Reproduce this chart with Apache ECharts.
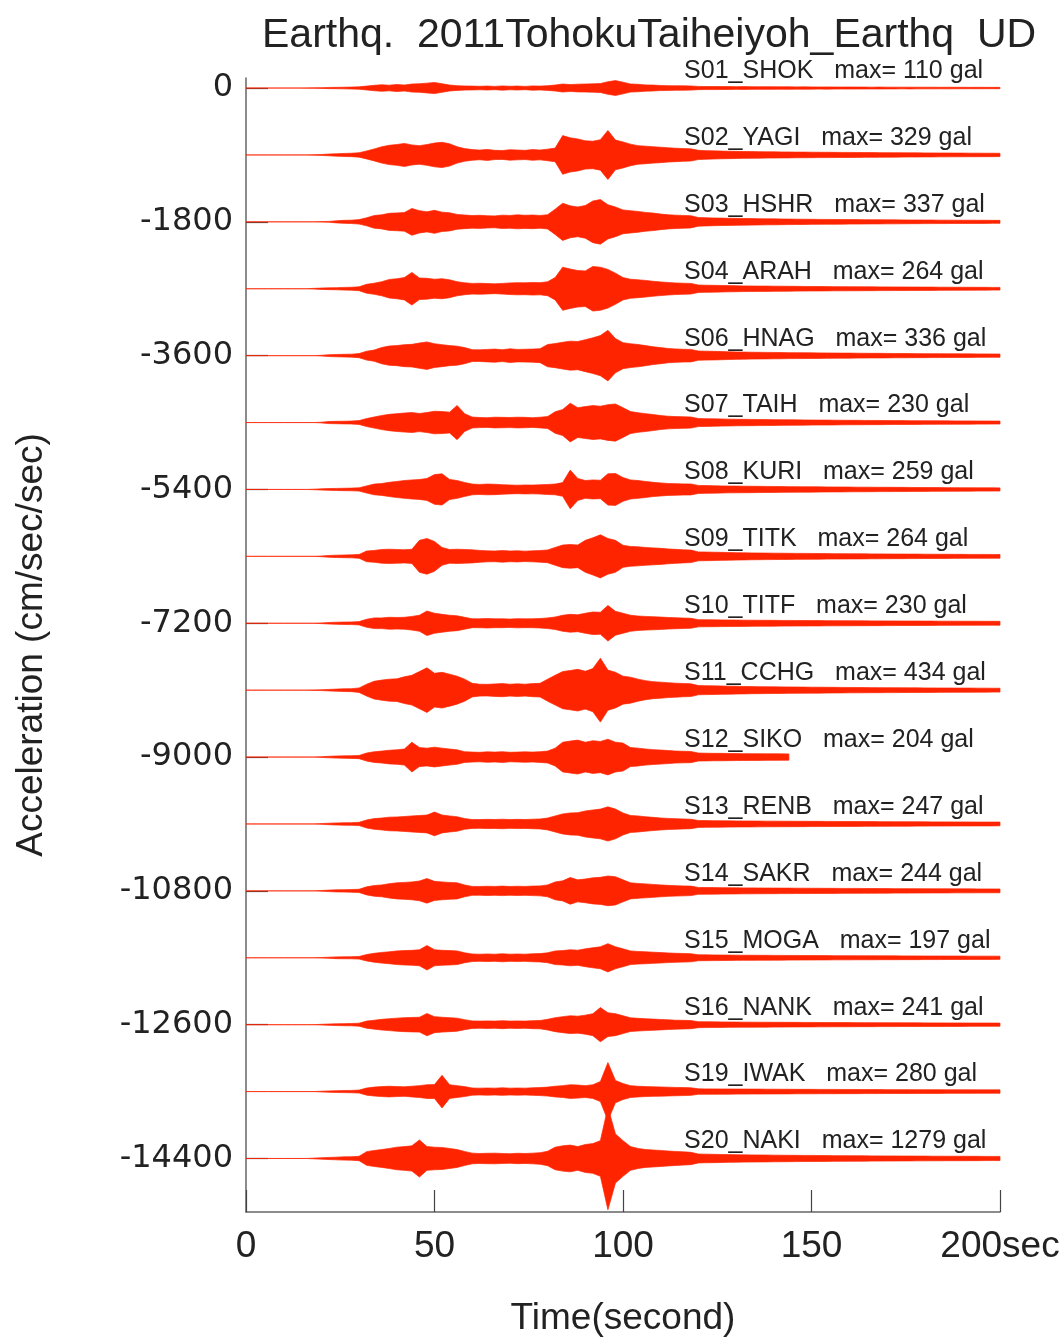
<!DOCTYPE html>
<html><head><meta charset="utf-8">
<script src="https://cdn.jsdelivr.net/npm/echarts@6/dist/echarts.min.js"></script>
<style>html,body{margin:0;padding:0;background:#fff}#c{width:1063px;height:1338px}</style>
</head><body><div id="c"></div>
<script>
// time samples (seconds)
const times = [0,2,4,6,8,10,12,14,16,18,20,22,24,26,28,30,32,34,36,38,40,42,44,46,48,50,52,54,56,58,
60,62,64,66,68,70,72,74,76,78,80,82,84,86,88,90,92,94,96,98,100,102,104,106,108,110,112,114,116,118,
120,122,124,126,128,130,132,134,136,138,140,142,144,146,148,150,152,154,156,158,160,162,164,166,168,170,
172,174,176,178,180,182,184,186,188,190,192,194,196,198,200];
const stations = ['S01_SHOK','S02_YAGI','S03_HSHR','S04_ARAH','S06_HNAG','S07_TAIH','S08_KURI','S09_TITK','S10_TITF','S11_CCHG','S12_SIKO','S13_RENB','S14_SAKR','S15_MOGA','S16_NANK','S19_IWAK','S20_NAKI'];
const maxGal = [110,329,337,264,336,230,259,264,230,434,204,247,244,197,241,280,1279];
const offsets = [0,-900,-1800,-2700,-3600,-4500,-5400,-6300,-7200,-8100,-9000,-9900,-10800,-11700,-12600,-13500,-14400];
const yTicks = [0,-1800,-3600,-5400,-7200,-9000,-10800,-12600,-14400];
const xTicks = [0,50,100,150,200];

// envelope amplitudes (gal) of each trace, read at the time samples
const ampS01 = [0,0,0,0,0,0,0,0,2,3, 5,8,9,11,13,16,26,36,44,38, 48,40,54,58,66,75,58,40,32,28, 26,23,27,22,29,23,27,22,29,26,
 32,40,54,46,52,54,56,60,85,100, 78,55,50,42,40,34,32,30,30,28, 22,20,21,19,20,18,19,18,17,18, 17,16,17,15,16,15,14,15,14,13,
 14,13,13,12,13,12,12,11,12,11, 11,11,10,11,10,10,9,10,9,9, 9];
const ampS02 = [0,0,0,0,0,0,0,0,0,3, 6,12,16,20,23,30,54,80,110,130, 140,155,135,125,140,160,170,150,110,85, 72,65,74,62,60,70,66,62,72,66,
 78,92,260,230,215,190,185,205,330,200, 175,145,125,118,110,104,96,90,86,82, 62,58,55,52,50,48,46,45,44,42, 42,40,40,38,38,37,36,36,35,34,
 34,33,32,32,31,30,30,29,28,28, 27,27,26,26,25,25,24,24,23,23, 22];
const ampS03 = [0,0,0,0,0,0,0,0,0,0, 3,6,14,20,23,30,54,85,95,115, 120,125,180,150,135,155,130,122,100,92, 85,88,82,80,90,86,94,88,92,86,
 96,170,250,215,200,220,280,300,230,200, 160,150,140,126,118,105,95,90,86,82, 58,55,52,50,48,47,45,44,42,40, 40,38,37,36,35,34,33,32,32,31,
 30,30,29,28,28,27,27,26,25,25, 24,24,23,23,22,22,22,21,21,20, 20];
const ampS04 = [0,0,0,0,0,0,0,0,0,5, 9,12,14,18,20,26,60,75,95,125, 135,150,220,145,140,128,135,120,95,80, 72,74,70,66,72,78,82,80,85,82,
 94,150,290,265,245,240,300,290,260,210, 150,128,120,112,100,92,84,78,74,72, 50,48,46,44,42,40,38,37,36,36, 35,34,33,32,31,30,30,29,28,28,
 27,27,26,26,25,25,24,24,23,23, 22,22,21,21,20,20,20,19,19,18, 18];
const ampS06 = [0,0,0,0,0,0,0,0,0,0, 5,12,16,18,20,28,60,75,110,130, 135,148,152,170,185,160,148,135,128,108, 80,78,84,88,80,92,84,86,88,94,
 150,162,180,195,190,215,240,270,340,230, 175,160,150,135,120,108,96,90,86,84, 62,60,58,55,52,50,48,46,45,44, 43,42,40,40,39,38,37,36,35,34,
 34,33,32,31,31,30,29,29,28,27, 27,26,26,25,25,24,24,23,23,22, 22];
const ampS07 = [0,0,0,0,0,0,0,0,0,0, 5,14,16,18,20,26,54,75,95,110, 120,128,134,122,135,152,148,140,230,120, 74,68,65,72,70,68,72,70,65,72,
 80,145,175,260,200,215,228,220,240,250, 200,148,132,120,108,94,85,80,78,75, 54,52,50,48,46,44,43,42,41,40, 39,38,37,36,35,34,33,33,32,31,
 30,30,29,28,28,27,26,26,25,25, 24,24,23,23,22,22,22,21,21,20, 20];
const ampS08 = [0,0,0,0,0,0,0,0,0,4, 8,12,14,16,18,22,48,72,80,96, 108,120,128,134,148,200,210,135,120,94, 72,68,72,70,64,60,57,60,59,62,
 68,72,92,260,148,120,128,124,210,215, 160,128,120,108,96,88,80,78,75,74, 54,52,50,48,46,45,44,43,42,41, 40,39,38,37,36,36,35,34,33,33,
 32,31,31,30,29,29,28,28,27,26, 26,25,25,24,24,23,23,22,22,22, 21];
const ampS09 = [0,0,0,0,0,0,0,0,0,0, 5,12,16,18,20,26,72,80,92,96, 92,89,95,215,240,200,120,92,96,92, 88,80,74,72,78,72,75,70,74,78,
 86,120,152,160,152,215,250,290,240,215, 148,133,128,120,114,108,100,94,88,84, 60,58,56,54,52,50,48,46,45,44, 43,42,41,40,40,39,38,37,36,36,
 35,35,34,33,33,32,31,31,30,30, 29,29,28,28,27,27,26,26,26,25, 25];
const ampS10 = [0,0,0,0,0,0,0,0,0,0, 5,10,14,16,18,22,54,72,72,80, 78,80,92,108,165,135,120,108,100,80, 60,60,64,59,60,56,62,59,60,64,
 72,84,108,120,114,135,152,148,240,160, 135,108,97,92,88,83,78,74,70,67, 48,47,46,45,44,43,42,41,40,40, 39,38,38,37,37,36,36,35,35,34,
 34,33,33,32,32,31,31,30,30,30, 29,29,28,28,28,27,27,27,26,26, 26];
const ampS11 = [0,0,0,0,0,0,0,0,0,3, 6,10,14,18,20,30,80,120,135,148, 152,180,200,250,300,228,240,215,188,148, 92,80,78,84,88,80,85,80,88,92,
 148,200,250,265,280,255,290,430,270,240, 188,175,148,128,114,108,100,94,89,86, 62,60,58,56,54,52,50,48,47,46, 45,44,43,42,41,40,40,39,38,37,
 36,36,35,34,34,33,33,32,31,31, 30,30,29,29,28,28,28,27,27,26, 26];
const ampS12 = [0,0,0,0,0,0,0,0,0,0, 5,10,14,16,18,22,54,72,80,92, 97,108,200,128,120,133,120,108,97,72, 67,64,70,67,72,64,67,70,67,72,
 80,120,200,215,228,200,220,210,240,200, 188,128,120,108,100,94,88,80,78,75, 54,52,50,50,48,47,46,45,45,44, 44,43,42];
const ampS13 = [0,0,0,0,0,0,0,0,0,0, 5,10,14,16,18,22,54,72,80,92, 94,100,108,114,120,160,120,108,97,72, 60,59,62,60,64,59,62,60,64,67,
 80,108,135,148,152,175,188,200,230,200, 148,114,108,97,89,80,75,71,67,64, 46,45,44,43,42,41,40,40,39,38, 38,37,37,36,36,35,35,34,34,33,
 33,33,32,32,31,31,30,30,30,29, 29,28,28,28,27,27,27,26,26,26, 25];
const ampS14 = [0,0,0,0,0,0,0,0,0,0, 5,10,14,16,18,22,54,72,80,97, 108,114,120,133,165,128,120,114,108,80, 60,59,62,60,64,59,62,60,64,67,
 80,120,135,180,148,160,175,182,200,190, 148,108,100,94,87,80,74,70,67,64, 46,45,44,43,42,41,40,40,39,38, 38,37,37,36,36,35,35,34,34,33,
 33,33,32,32,31,31,30,30,30,29, 29,28,28,28,27,27,27,26,26,26, 25];
const ampS15 = [0,0,0,0,0,0,0,0,0,0, 4,8,12,13,14,18,43,60,72,80, 92,97,100,108,165,108,100,97,92,67, 51,48,51,48,54,48,51,48,54,56,
 67,92,97,108,102,120,135,148,190,148, 120,92,85,80,75,70,65,60,58,55, 40,39,38,37,36,35,34,34,33,33, 32,32,31,31,30,30,29,29,28,28,
 28,27,27,27,26,26,26,25,25,25, 24,24,24,23,23,23,22,22,22,22, 21];
const ampS16 = [0,0,0,0,0,0,0,0,0,0, 5,9,12,14,16,20,48,60,72,80, 88,94,97,100,150,108,100,94,88,67, 51,48,51,48,54,48,51,48,54,56,
 72,94,108,120,114,128,148,230,160,148, 120,92,85,80,75,70,65,60,58,55, 40,39,38,37,36,35,34,34,33,33, 32,32,31,31,30,30,29,29,28,28,
 28,27,27,27,26,26,26,25,25,25, 24,24,24,23,23,23,22,22,22,22, 21];
const ampS19 = [0,0,0,0,0,0,0,0,0,0, 5,9,12,14,16,20,48,60,67,72, 67,64,72,80,92,94,220,92,80,67, 48,46,48,46,51,46,48,46,51,54,
 60,72,80,92,88,80,92,135,390,150, 108,80,72,67,64,62,59,56,54,51, 37,36,36,35,35,34,34,33,33,32, 32,31,31,30,30,30,29,29,29,28,
 28,28,27,27,27,26,26,26,26,25, 25,25,25,24,24,24,24,23,23,23, 23];
const ampS20 = [0,0,0,0,0,0,0,0,0,5, 9,14,18,22,23,30,92,108,120,135, 152,160,170,250,160,152,148,135,120,94, 72,67,70,72,67,64,70,67,72,78,
 97,152,170,180,160,188,200,240,690,330, 240,160,135,120,114,108,100,94,89,83, 60,58,56,54,52,50,49,48,47,46, 45,44,43,42,41,41,40,39,38,38,
 37,37,36,35,35,34,34,33,33,32, 32,31,31,30,30,30,29,29,28,28, 28];
const amps = [ampS01,ampS02,ampS03,ampS04,ampS06,ampS07,ampS08,ampS09,ampS10,ampS11,ampS12,ampS13,ampS14,ampS15,ampS16,ampS19,ampS20];

const RED = '#ff2400';
const TXT = '#222';
const LABEL_T = 116.2;
const chart = echarts.init(document.getElementById('c'), null, {renderer: 'canvas'});
chart.setOption({
  animation: false,
  backgroundColor: '#fff',
  title: {
    text: 'Earthq.  2011TohokuTaiheiyoh_Earthq  UD',
    left: 257, top: 10,
    textStyle: {fontFamily: 'Liberation Sans', fontSize: 41, fontWeight: 'normal', color: TXT}
  },
  grid: {left: 246, right: 63, top: 78, bottom: 126, containLabel: false, outerBoundsMode: 'none'},
  xAxis: {
    type: 'value', min: 0, max: 200, interval: 50,
    name: 'Time(second)', nameLocation: 'middle', nameGap: 88,
    nameTextStyle: {fontFamily: 'Liberation Sans', fontSize: 37, color: TXT},
    axisLine: {show: true, onZero: false, lineStyle: {color: '#666', width: 1.5}},
    axisTick: {show: true, inside: true, length: 22, lineStyle: {color: '#444', width: 1.2}},
    axisLabel: {show: true, margin: 16, fontFamily: 'Liberation Sans', fontSize: 37, color: TXT,
      showMinLabel: true, showMaxLabel: true,
      formatter: v => (v === xTicks[xTicks.length - 1] ? v + 'sec' : String(v))},
    splitLine: {show: false}
  },
  yAxis: {
    type: 'value', min: -15120, max: 135,
    name: 'Acceleration (cm/sec/sec)', nameLocation: 'middle', nameGap: 196, nameRotate: 90,
    nameTextStyle: {fontFamily: 'Liberation Sans', fontSize: 37, color: TXT},
    axisLine: {show: true, lineStyle: {color: '#666', width: 1.5}},
    axisTick: {show: true, inside: true, length: 22, customValues: yTicks, lineStyle: {color: '#444', width: 1.2}},
    axisLabel: {show: true, margin: 13, customValues: yTicks, fontFamily: 'DejaVu Sans', fontSize: 32, color: TXT,
      formatter: v => String(v)},
    splitLine: {show: false}
  },
  series: [{
    type: 'custom',
    clip: false,
    encode: {x: 0, y: 1},
    data: offsets.map(o => [LABEL_T, o]),
    renderItem: function (params, api) {
      const i = params.dataIndex;
      const amp = amps[i], off = offsets[i];
      const up = [], low = [];
      for (let k = 0; k < amp.length; k++) {
        up.push(api.coord([times[k], off + amp[k]]));
        low.push(api.coord([times[k], off - amp[k]]));
      }
      const pts = up.concat(low.reverse());
      const lp = api.coord([LABEL_T, off]);
      return {
        type: 'group',
        children: [
          {type: 'polygon', shape: {points: pts}, style: {fill: RED, stroke: RED, lineWidth: 0.7}},
          {type: 'text', x: lp[0], y: lp[1] - 17, style: {
            text: stations[i] + '   max= ' + maxGal[i] + ' gal',
            fill: TXT, fontFamily: 'Liberation Sans', fontSize: 25,
            align: 'left', verticalAlign: 'middle'}}
        ]
      };
    }
  }]
});
</script>
</body></html>
